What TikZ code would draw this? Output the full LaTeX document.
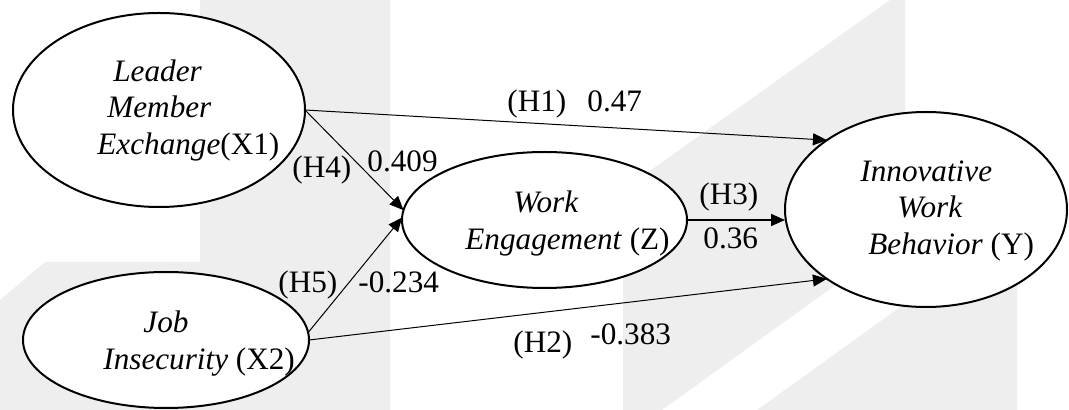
\documentclass[tikz,border=0pt]{standalone}
\usepackage{fontspec}
\setmainfont{Liberation Serif}
\usetikzlibrary{arrows.meta,shapes.geometric}
\definecolor{wmark}{RGB}{238,238,238}
\tikzset{
  var/.style={ellipse, draw, line width=1pt, fill=white, inner sep=0pt, outer sep=0pt},
  txt/.style={anchor=base west, inner sep=0pt, font=\fontsize{15.6}{18}\selectfont},
  conn/.style={-{Triangle[length=7pt,width=6pt]}, line width=0.5pt}
}
\begin{document}
\begin{tikzpicture}[
  x={(0.5pt,0pt)},
  y={(0pt,-0.5pt)}
]
\useasboundingbox (0,0) rectangle (1069,410);

% watermark
\fill[wmark] (200,0) rectangle (390,410);
\fill[wmark]
(0,410)
-- (0,300)
-- (45,262)
-- (200,262)
-- (200,410)
-- cycle;
\fill[wmark]
(623,410)
-- (623,190)
-- (890,0)
-- (905,0)
-- (905,235)
-- (662,410)
-- cycle;
\fill[wmark] (757,410) -- (1017,223) -- (1017,410) -- cycle;

\node[var, minimum width=146pt, minimum height=97pt] (lmx) at (159,110) {};
\node[var, minimum width=143pt, minimum height=68pt] (jis) at (166,340) {};
\node[var, minimum width=142.5pt, minimum height=68pt] (wen) at (544.5,220) {};
\node[var, minimum width=141pt, minimum height=97.5pt] (iwb) at (926,209.5) {};

\node[txt] (lmx-a) at (113,82) {\textit{Leader}};
\node[txt] (lmx-b) at (107,118) {\textit{Member}};
\node[txt] (lmx-c) at (97,155) {\textit{Exchange}(X1)};
\node[txt] (jis-a) at (143,333) {\textit{Job}};
\node[txt] (jis-b) at (103,370) {\textit{Insecurity} (X2)};
\node[txt] (wen-a) at (513,213) {\textit{Work}};
\node[txt] (wen-b) at (465,250) {\textit{Engagement} (Z)};
\node[txt] (iwb-a) at (860,182) {\textit{Innovative}};
\node[txt] (iwb-b) at (897,218) {\textit{Work}};
\node[txt] (iwb-c) at (868,255) {\textit{Behavior} (Y)};

\draw[conn] (lmx.east) -- (iwb.145);
\draw[conn] (lmx.east) -- (wen.176);
\draw[conn] (jis.3) -- (wen.179);
\draw[conn] (jis.east) -- (iwb.215);
\draw[conn, line width=0.9pt] (wen.east) -- (wen.east -| iwb.west);

\foreach \n/\x/\y/\t in {h1/507/112/(H1), c1/587/112/0.47,
  h4/292/178/(H4), c4/367/172/0.409,
  h3/699/205/(H3), c3/703/249/0.36,
  h5/278/293/(H5), c5/358/293/-0.234,
  h2/513/353/(H2), c2/590/345/-0.383}
{
  \node[txt] (\n) at (\x,\y) {\t};
}
\end{tikzpicture}
\end{document}
